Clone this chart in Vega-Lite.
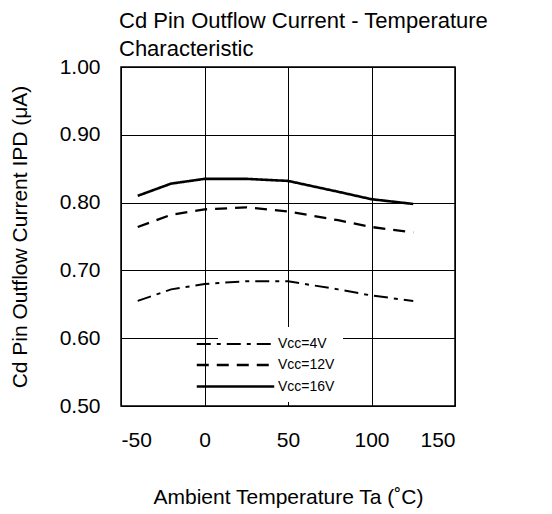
{
  "$schema": "https://vega.github.io/schema/vega-lite/v6.json",
  "width": 334,
  "height": 339,
  "autosize": "none",
  "padding": {"left": 121, "top": 67, "right": 97, "bottom": 108},
  "background": "white",
  "config": {
    "font": "Liberation Sans",
    "view": {"stroke": "black", "strokeWidth": 1.5}
  },
  "title": {
    "text": ["Cd Pin Outflow Current - Temperature", "Characteristic"],
    "anchor": "start",
    "frame": "group",
    "dx": -2,
    "offset": -5,
    "fontSize": 22,
    "fontWeight": "normal",
    "font": "Liberation Sans",
    "color": "black",
    "lineHeight": 28
  },
  "data": {
    "values": [
      {"t": -40, "i": 0.655, "s": "Vcc=4V"},
      {"t": -20, "i": 0.672, "s": "Vcc=4V"},
      {"t": 0, "i": 0.680, "s": "Vcc=4V"},
      {"t": 25, "i": 0.684, "s": "Vcc=4V"},
      {"t": 50, "i": 0.684, "s": "Vcc=4V"},
      {"t": 80, "i": 0.672, "s": "Vcc=4V"},
      {"t": 100, "i": 0.663, "s": "Vcc=4V"},
      {"t": 125, "i": 0.655, "s": "Vcc=4V"},
      {"t": -40, "i": 0.764, "s": "Vcc=12V"},
      {"t": -20, "i": 0.782, "s": "Vcc=12V"},
      {"t": 0, "i": 0.790, "s": "Vcc=12V"},
      {"t": 25, "i": 0.793, "s": "Vcc=12V"},
      {"t": 50, "i": 0.787, "s": "Vcc=12V"},
      {"t": 80, "i": 0.774, "s": "Vcc=12V"},
      {"t": 100, "i": 0.764, "s": "Vcc=12V"},
      {"t": 125, "i": 0.756, "s": "Vcc=12V"},
      {"t": -40, "i": 0.810, "s": "Vcc=16V"},
      {"t": -20, "i": 0.828, "s": "Vcc=16V"},
      {"t": 0, "i": 0.835, "s": "Vcc=16V"},
      {"t": 25, "i": 0.835, "s": "Vcc=16V"},
      {"t": 50, "i": 0.832, "s": "Vcc=16V"},
      {"t": 80, "i": 0.816, "s": "Vcc=16V"},
      {"t": 100, "i": 0.805, "s": "Vcc=16V"},
      {"t": 125, "i": 0.798, "s": "Vcc=16V"}
    ]
  },
  "mark": {"type": "line", "color": "black", "clip": true},
  "encoding": {
    "x": {
      "field": "t",
      "type": "quantitative",
      "scale": {"domain": [-50, 150], "nice": false, "zero": false},
      "axis": {
        "values": [-50, 0, 50, 100, 150],
        "labelExpr": "'' + datum.value",
        "title": "Ambient Temperature Ta (˚C)",
        "titleFont": "Liberation Sans",
        "titleFontSize": 21,
        "titleFontWeight": "normal",
        "titleColor": "black",
        "titlePadding": 36,
        "labelFont": "Liberation Sans",
        "labelFontSize": 21,
        "labelColor": "black",
        "labelPadding": 23,
        "ticks": false,
        "domain": false,
        "grid": true,
        "gridColor": "black",
        "gridOpacity": 1,
        "gridWidth": 1
      }
    },
    "y": {
      "field": "i",
      "type": "quantitative",
      "scale": {"domain": [0.5, 1.0], "nice": false, "zero": false},
      "axis": {
        "values": [0.5, 0.6, 0.7, 0.8, 0.9, 1.0],
        "format": ".2f",
        "title": "Cd Pin Outflow Current IPD (μA)",
        "titleFont": "Liberation Sans",
        "titleFontSize": 21,
        "titleFontWeight": "normal",
        "titleColor": "black",
        "titlePadding": 29,
        "labelFont": "Liberation Sans",
        "labelFontSize": 21,
        "labelColor": "black",
        "labelPadding": 21,
        "ticks": false,
        "domain": false,
        "grid": true,
        "gridColor": "black",
        "gridOpacity": 1,
        "gridWidth": 1
      }
    },
    "strokeDash": {
      "field": "s",
      "type": "nominal",
      "scale": {
        "domain": ["Vcc=4V", "Vcc=12V", "Vcc=16V"],
        "range": [[14, 6, 4, 6], [12, 8], [1, 0]]
      },
      "legend": {
        "title": null,
        "orient": "none",
        "legendX": 97,
        "legendY": 260,
        "fillColor": "white",
        "padding": 8,
        "symbolType": "M-5,0H5",
        "symbolSize": 240,
        "symbolStrokeColor": "black",
        "labelFont": "Liberation Sans",
        "labelFontSize": 14,
        "labelColor": "black",
        "labelOffset": 33,
        "rowPadding": 5
      }
    },
    "strokeWidth": {
      "field": "s",
      "type": "nominal",
      "scale": {
        "domain": ["Vcc=4V", "Vcc=12V", "Vcc=16V"],
        "range": [2, 2.6, 1.5]
      },
      "legend": null
    }
  }
}
